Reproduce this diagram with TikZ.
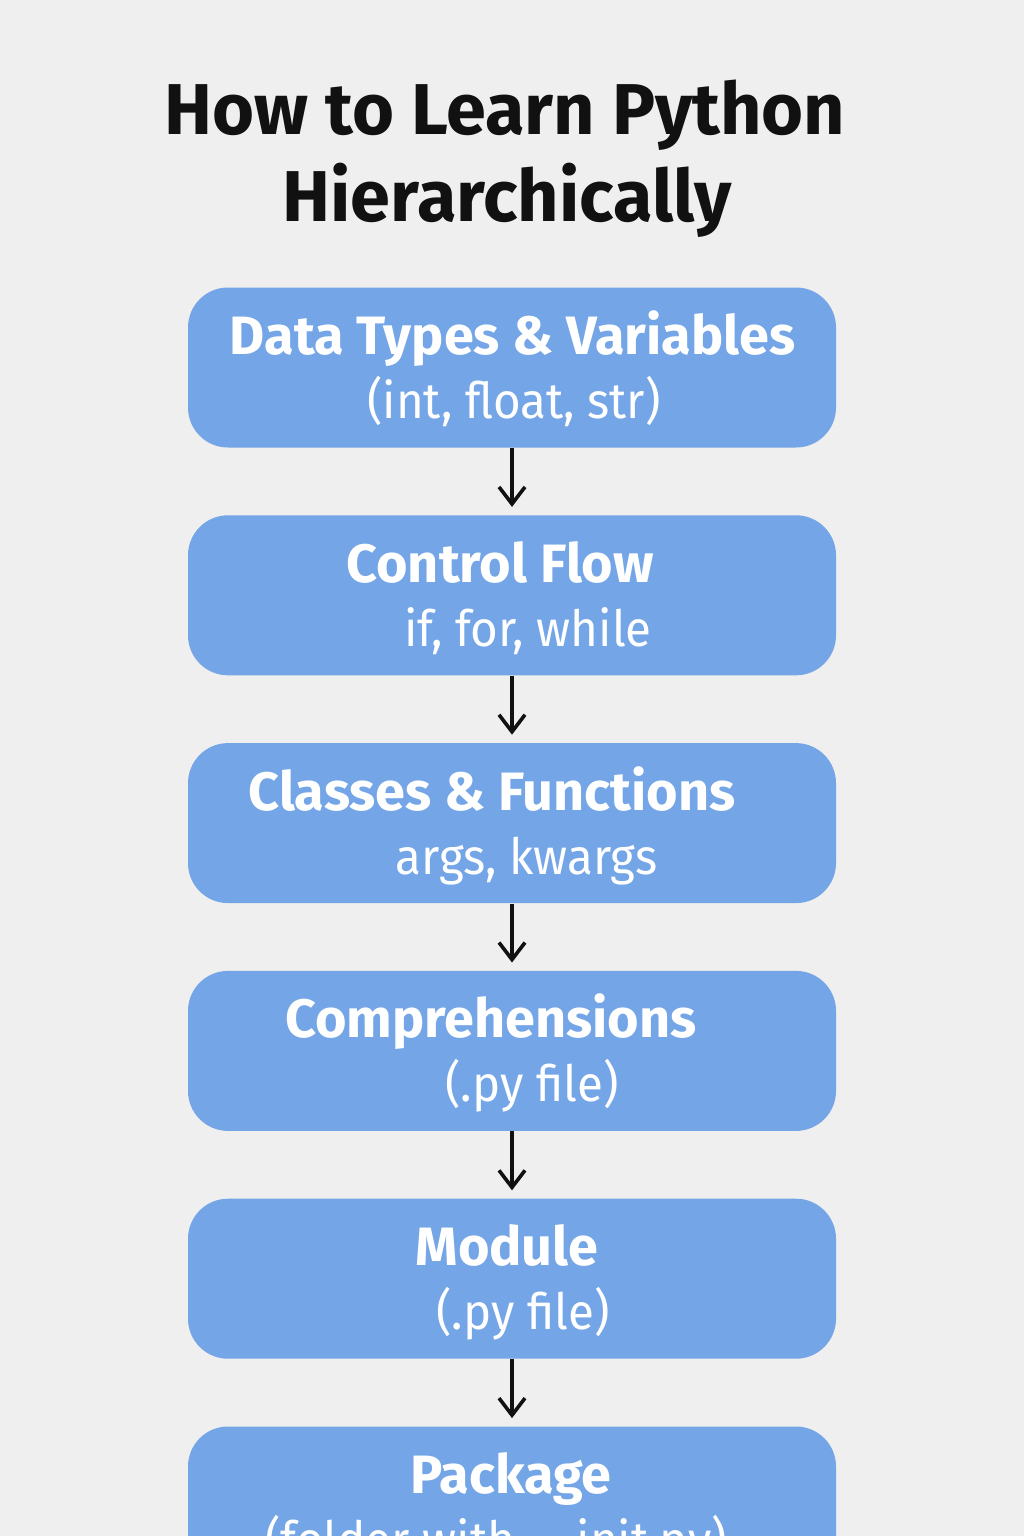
\documentclass[tikz,border=0pt]{standalone}
\usepackage{fontspec}
\setmainfont{Fira Sans}
\newfontfamily\headfont{Fira Sans}
\newfontfamily\subfont[FakeStretch=0.95]{Fira Sans}
\usepackage{tikz}
\usetikzlibrary{positioning}
\usetikzlibrary{arrows.meta}
\definecolor{pagegray}{HTML}{EFEFEF}
\definecolor{boxblue}{HTML}{74A5E6}
\definecolor{inkblack}{HTML}{111111}

\tikzset{
	pybox/.style={fill=boxblue, rounded corners=20pt, minimum width=324pt, minimum height=80pt, inner sep=0pt},
	headtxt/.style={text=white, font=\headfont\bfseries\fontsize{27}{30}\selectfont, inner sep=0pt, anchor=base},
	subtxt/.style={text=white, font=\subfont\fontsize{25}{30}\selectfont, inner sep=0pt, anchor=base},
	titletxt/.style={text=inkblack, font=\bfseries\fontsize{36}{40}\selectfont, inner sep=0pt, anchor=base},
	nextarrow/.style={-{Straight Barb[length=8.5pt,width=13pt]}, line width=1.8pt, draw=inkblack, shorten >=4pt}
}

\begin{document}
\begin{tikzpicture}[x=0.5pt,y=-0.5pt]
\fill[pagegray] (0,0) rectangle (1024,1536);
\useasboundingbox (0,0) rectangle (1024,1536);

\node[titletxt] (title1) at (505,134) {How to Learn Python};
\node[titletxt] (title2) at (507,221) {Hierarchically};

\node[pybox] (types) at (512,367.5) {};
\node[pybox, below=33.5pt of types] (control) {};
\node[pybox, below=33.5pt of control] (classes) {};
\node[pybox, below=33.5pt of classes] (compr) {};
\node[pybox, below=33.5pt of compr] (module) {};
\node[pybox, below=33.5pt of module] (package) {};

\foreach \b/\dxa/\ha/\dxb/\hb in {
	types/0.25/{Data Types \& Variables}/1/{(int, float, str)},
	control/-6/{Control Flow}/8/{if, for, while},
	classes/-10/{Classes \& Functions}/7.25/{args, kwargs},
	compr/-10.5/{Comprehensions}/10/{(.py file)},
	module/-2.5/{Module}/5.5/{(.py file)},
	package/-0.5/{Package}/-8/{(folder with \_\_init.py)}}
{
	\node[headtxt] (\b-head) at ([xshift=\dxa pt, yshift=6.5pt]\b.center) {\ha};
	\node[subtxt] (\b-sub) at ([xshift=\dxb pt, yshift=-25.5pt]\b.center) {\hb};
}

\path[nextarrow]
(types) edge (control)
(control) edge (classes)
(classes) edge (compr)
(compr) edge (module)
(module) edge (package);
\end{tikzpicture}
\end{document}
